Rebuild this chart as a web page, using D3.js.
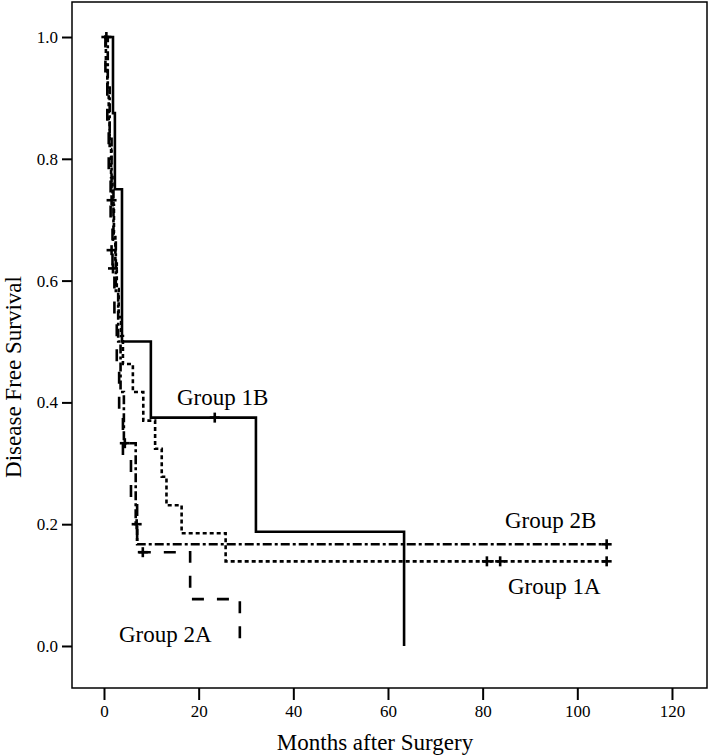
<!DOCTYPE html>
<html>
<head>
<meta charset="utf-8">
<script src="https://cdn.jsdelivr.net/npm/d3@7"></script>
<style>
  body { margin: 0; background: #fff; }
  text { font-family: "Liberation Serif", "Times New Roman", serif; fill: #000; }
</style>
</head>
<body>
<div id="chart"></div>
<script>
// Kaplan-Meier steps (months, survival)
const months1A = [0, 0.4, 0.7, 1.0, 1.2, 1.5, 1.8, 2.1, 2.4, 2.7, 3.1, 3.6, 4.0, 6.1, 8.3, 10.8, 12.2, 13.2, 16.4, 25.7, 106.2];
const surv1A = [1.0, 0.954, 0.908, 0.862, 0.816, 0.770, 0.724, 0.678, 0.632, 0.586, 0.540, 0.509, 0.463, 0.417, 0.370, 0.324, 0.278, 0.231, 0.185, 0.139, 0.139];

const months1B = [0, 1.9, 2.3, 3.8, 9.9, 32.1, 63.4];
const surv1B = [1.0, 0.875, 0.75, 0.5, 0.375, 0.1875, 0];

const months2A = [0, 0.3, 0.7, 1.0, 1.4, 1.8, 2.2, 2.7, 3.2, 4.0, 5.7, 7.0, 18.2, 28.7];
const surv2A = [1.0, 0.923, 0.846, 0.769, 0.692, 0.615, 0.538, 0.462, 0.385, 0.308, 0.231, 0.154, 0.077, 0];

const months2B = [0, 0.8, 1.2, 1.6, 2.0, 2.5, 3.0, 3.5, 4.2, 6.7, 7.0, 106.2];
const surv2B = [1.0, 0.917, 0.833, 0.75, 0.667, 0.583, 0.5, 0.417, 0.333, 0.2, 0.167, 0.167];

// censored cases [months, survival]
const censor1A = [[1.6, 0.65], [80.9, 0.139], [83.7, 0.139], [106.2, 0.139]];
const censor1B = [[0.5, 1.0], [23.4, 0.375]];
const censor2A = [[1.9, 0.62], [8.2, 0.154]];
const censor2B = [[1.6, 0.732], [4.4, 0.333], [6.9, 0.2], [106.2, 0.167]];

const xTicks = [0, 20, 40, 60, 80, 100, 120];
const yTicks = [0.0, 0.2, 0.4, 0.6, 0.8, 1.0];

const width = 711;
const height = 756;
const frame = { left: 72, right: 707, top: 2, bottom: 688 };

const svg = d3.select('#chart')
  .append('svg')
  .attr('width', width)
  .attr('height', height);

const xScale = d3.scaleLinear()
  .domain([-6.76, 127.4])
  .range([frame.left, frame.right]);

const yScale = d3.scaleLinear()
  .domain([-0.069, 1.0575])
  .range([frame.bottom, frame.top]);

// axes
const xAxis = d3.axisBottom(xScale)
  .tickValues(xTicks)
  .tickFormat(d3.format('d'))
  .tickSize(12)
  .tickPadding(5);

const yAxis = d3.axisLeft(yScale)
  .tickValues(yTicks)
  .tickFormat(d3.format('.1f'))
  .tickSize(10)
  .tickPadding(4);

const gx = svg.append('g')
  .attr('transform', `translate(0, ${frame.bottom})`)
  .call(xAxis);

const gy = svg.append('g')
  .attr('transform', `translate(${frame.left}, 0)`)
  .call(yAxis);

[gx, gy].forEach(g => {
  g.select('.domain').remove();
  g.selectAll('line').attr('stroke', '#000').attr('stroke-width', 2);
  g.selectAll('text')
    .style('font-family', '"Liberation Serif", serif')
    .style('font-size', '17px')
    .attr('fill', '#000');
});

svg.append('rect')
  .attr('x', frame.left)
  .attr('y', frame.top)
  .attr('width', frame.right - frame.left)
  .attr('height', frame.bottom - frame.top)
  .attr('fill', 'none')
  .attr('stroke', '#000')
  .attr('stroke-width', 1.5);

// curves
const step = d3.line()
  .x(d => xScale(d[0]))
  .y(d => yScale(d[1]))
  .curve(d3.curveStepAfter);

const groups = [
  { t: months1B, s: surv1B, c: censor1B, dash: null },
  { t: months1A, s: surv1A, c: censor1A, dash: '4,3' },
  { t: months2B, s: surv2B, c: censor2B, dash: '9,3,3,3' },
  { t: months2A, s: surv2A, c: censor2A, dash: '12,13' }
];

groups.forEach(g => {
  const pts = g.t.map((d, i) => [d, g.s[i]]);
  svg.append('path')
    .attr('d', step(pts))
    .attr('fill', 'none')
    .attr('stroke', '#000')
    .attr('stroke-width', 2.6)
    .attr('stroke-dasharray', g.dash);

  const marks = svg.append('g');
  g.c.forEach(d => {
    const cx = xScale(d[0]);
    const cy = yScale(d[1]);
    marks.append('line')
      .attr('x1', cx - 5).attr('x2', cx + 5)
      .attr('y1', cy).attr('y2', cy);
    marks.append('line')
      .attr('x1', cx).attr('x2', cx)
      .attr('y1', cy - 5).attr('y2', cy + 5);
  });
  marks.selectAll('line')
    .attr('stroke', '#000')
    .attr('stroke-width', 2.6);
});

// labels
const labels = [
  { text: 'Group 1B', x: 177, y: 405 },
  { text: 'Group 2B', x: 505, y: 528 },
  { text: 'Group 1A', x: 508, y: 594 },
  { text: 'Group 2A', x: 119, y: 642 }
];

svg.selectAll('.grp')
  .data(labels)
  .enter()
  .append('text')
  .attr('class', 'grp')
  .attr('x', d => d.x)
  .attr('y', d => d.y)
  .style('font-size', '23px')
  .text(d => d.text);

svg.append('text')
  .attr('x', 375)
  .attr('y', 750)
  .attr('text-anchor', 'middle')
  .style('font-size', '23px')
  .text('Months after Surgery');

svg.append('text')
  .attr('transform', 'translate(21, 377) rotate(-90)')
  .attr('text-anchor', 'middle')
  .style('font-size', '23px')
  .text('Disease Free Survival');
</script>
</body>
</html>
